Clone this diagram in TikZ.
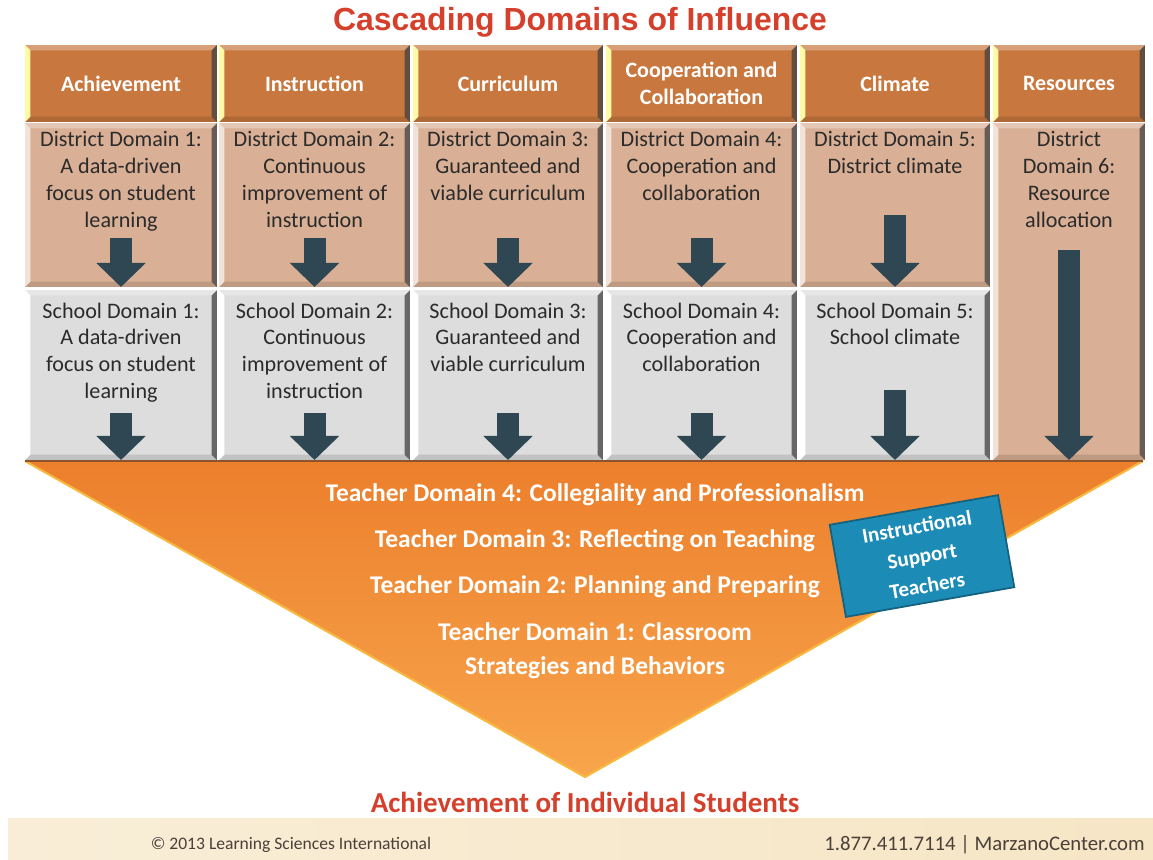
\documentclass[tikz,border=0pt]{standalone}
\usepackage{fontspec}
\setmainfont{Carlito}
\newfontfamily\arialfont{Liberation Sans}
\usetikzlibrary{positioning,arrows.meta}

\definecolor{titlered}{HTML}{D4402C}
\definecolor{hdrbrown}{HTML}{C8783F}
\definecolor{distan}{HTML}{D9B095}
\definecolor{schgray}{HTML}{DDDDDD}
\definecolor{arrowslate}{HTML}{2F4753}
\definecolor{funneltop}{HTML}{EC7F2C}
\definecolor{funnelbot}{HTML}{F8A54C}
\definecolor{isblue}{HTML}{1C8CB6}
\definecolor{footbeige}{HTML}{F6E6C6}
\definecolor{foottext}{HTML}{4B4038}
\definecolor{celltext}{HTML}{2B2B2B}

\tikzset{
  bevel/.style={path picture={
    \fill[#1] (path picture bounding box.north west) -- ([xshift=3pt,yshift=-3pt]path picture bounding box.north west) -- ([xshift=3pt,yshift=3pt]path picture bounding box.south west) -- (path picture bounding box.south west) -- cycle;
    \fill[black!75,opacity=.75] (path picture bounding box.north east) -- ([xshift=-3pt,yshift=-3pt]path picture bounding box.north east) -- ([xshift=-3pt,yshift=3pt]path picture bounding box.south east) -- (path picture bounding box.south east) -- cycle;
    \fill[white,opacity=.3] (path picture bounding box.north west) -- (path picture bounding box.north east) -- ([xshift=-3pt,yshift=-3pt]path picture bounding box.north east) -- ([xshift=3pt,yshift=-3pt]path picture bounding box.north west) -- cycle;
    \fill[black,opacity=.12] (path picture bounding box.south west) -- (path picture bounding box.south east) -- ([xshift=-3pt,yshift=3pt]path picture bounding box.south east) -- ([xshift=3pt,yshift=3pt]path picture bounding box.south west) -- cycle;
  }},
  hdr/.style={bevel=yellow!35!white, fill=hdrbrown, inner sep=0pt, outer sep=0pt, minimum height=1.54cm, text=white, align=center, font=\fontsize{12.5}{15.3}\selectfont\bfseries},
  dcell/.style={bevel=white!65!distan, fill=distan, inner sep=0pt, outer sep=0pt, minimum height=3.28cm},
  scell/.style={bevel=white, fill=schgray, inner sep=0pt, outer sep=0pt, minimum height=3.4cm},
  celltxt/.style={text=celltext, align=center, inner sep=0pt, font=\fontsize{12.6}{15.3}\selectfont},
  bigarrow/.style={draw=arrowslate, line width=0.44cm, -{Triangle[width=0.96cm,length=0.48cm]}},
  tdom/.style={text=white, align=center, inner sep=0pt, font=\fontsize{14.5}{19.3}\selectfont\bfseries},
}

\begin{document}
\begin{tikzpicture}[x=0.02cm,y=-0.02cm]
\useasboundingbox (0,0) rectangle (1153,859);

% footer band
\shade[left color=footbeige!70, right color=footbeige] (8,818) rectangle (1153,859);

\node[text=titlered, font=\arialfont\fontsize{18.2}{20}\selectfont\bfseries] (title) at (580,22) {Cascading Domains of Influence};

% funnel
\shade[top color=funneltop, bottom color=funnelbot] (25,461) -- (1143,461) -- (585,777) -- cycle;
\draw[funnelbot!80!yellow, line width=1.2pt] (25,461) -- (585,777) -- (1143,461);
\draw[hdrbrown!70!black, line width=0.6pt] (25,461) -- (1143,461);

% headers
\node[hdr, minimum width=3.84cm] (h1) at (121,83.5) {Achievement};
\node[hdr, minimum width=3.82cm] (h2) at (314.5,83.5) {Instruction};
\node[hdr, minimum width=3.80cm] (h3) at (508,83.5) {Curriculum};
\node[hdr, minimum width=3.82cm] (h4) at (701.5,83.5) {Cooperation and\\Collaboration};
\node[hdr, minimum width=3.80cm] (h5) at (895,83.5) {Climate};
\node[hdr, minimum width=3.04cm] (h6) at (1069,83.5) {Resources};

% district row
\node[dcell, minimum width=3.84cm] (d1) at (121,205) {};
\node[dcell, minimum width=3.82cm] (d2) at (314.5,205) {};
\node[dcell, minimum width=3.80cm] (d3) at (508,205) {};
\node[dcell, minimum width=3.82cm] (d4) at (701.5,205) {};
\node[dcell, minimum width=3.80cm] (d5) at (895,205) {};
\node[dcell, minimum width=3.04cm, minimum height=6.74cm] (d6) at (1069,291.5) {};

% school row
\node[scell, minimum width=3.84cm] (s1) at (121,375) {};
\node[scell, minimum width=3.82cm] (s2) at (314.5,375) {};
\node[scell, minimum width=3.80cm] (s3) at (508,375) {};
\node[scell, minimum width=3.82cm] (s4) at (701.5,375) {};
\node[scell, minimum width=3.80cm] (s5) at (895,375) {};

\node[celltxt, below=4.5pt of d1.north] (d1t) {District Domain 1:\\A data-driven\\focus on student\\learning};
\node[celltxt, below=4.5pt of d2.north] (d2t) {District Domain 2:\\Continuous\\improvement of\\instruction};
\node[celltxt, below=4.5pt of d3.north] (d3t) {District Domain 3:\\Guaranteed and\\viable curriculum};
\node[celltxt, below=4.5pt of d4.north] (d4t) {District Domain 4:\\Cooperation and\\collaboration};
\node[celltxt, below=4.5pt of d5.north] (d5t) {District Domain 5:\\District climate};
\node[celltxt, below=4.5pt of d6.north] (d6t) {District\\Domain 6:\\Resource\\allocation};

\node[celltxt, below=7pt of s1.north] (s1t) {School Domain 1:\\A data-driven\\focus on student\\learning};
\node[celltxt, below=7pt of s2.north] (s2t) {School Domain 2:\\Continuous\\improvement of\\instruction};
\node[celltxt, below=7pt of s3.north] (s3t) {School Domain 3:\\Guaranteed and\\viable curriculum};
\node[celltxt, below=7pt of s4.north] (s4t) {School Domain 4:\\Cooperation and\\collaboration};
\node[celltxt, below=7pt of s5.north] (s5t) {School Domain 5:\\School climate};

% arrows
\coordinate (d1a) at (121,238);
\coordinate (d2a) at (314.5,238);
\coordinate (d3a) at (508,238);
\coordinate (d4a) at (701.5,238);
\coordinate (d5a) at (895,215);
\coordinate (d6a) at (1069,250);
\coordinate (s1a) at (121,413);
\coordinate (s2a) at (314.5,413);
\coordinate (s3a) at (508,413);
\coordinate (s4a) at (701.5,413);
\coordinate (s5a) at (895,390);
\draw[bigarrow] (d1a) -- (d1.south);
\draw[bigarrow] (d2a) -- (d2.south);
\draw[bigarrow] (d3a) -- (d3.south);
\draw[bigarrow] (d4a) -- (d4.south);
\draw[bigarrow] (d5a) -- (d5.south);
\draw[bigarrow] (d6a) -- (d6.south);
\draw[bigarrow] (s1a) -- (s1.south);
\draw[bigarrow] (s2a) -- (s2.south);
\draw[bigarrow] (s3a) -- (s3.south);
\draw[bigarrow] (s4a) -- (s4.south);
\draw[bigarrow] (s5a) -- (s5.south);

% teacher domains
\node[tdom] (t4) at (595,495) {Teacher Domain 4: Collegiality and Professionalism};
\node[tdom] (t3) at (595,541) {Teacher Domain 3: Reflecting on Teaching};
\node[tdom] (t2) at (595,587) {Teacher Domain 2: Planning and Preparing};
\node[tdom] (t1) at (595,651) {Teacher Domain 1: Classroom\\Strategies and Behaviors};

\node[fill=isblue, draw=isblue!70!black, line width=1pt, rotate=10, minimum width=3.42cm, minimum height=1.87cm, text=white, align=center, font=\fontsize{12}{17}\selectfont\bfseries] (ist) at (922,556) {Instructional\\Support\\Teachers};

\node[text=titlered, font=\fontsize{16.5}{18}\selectfont\bfseries] (goal) at (585,802) {Achievement of Individual Students};

\node[text=foottext, font=\fontsize{10}{12}\selectfont] (copy) at (291,845) {© 2013 Learning Sciences International};
\node[text=foottext, anchor=east, inner sep=0pt, font=\fontsize{11.8}{13}\selectfont] (contact) at (1145,845) {1.877.411.7114 | MarzanoCenter.com};
\end{tikzpicture}
\end{document}
